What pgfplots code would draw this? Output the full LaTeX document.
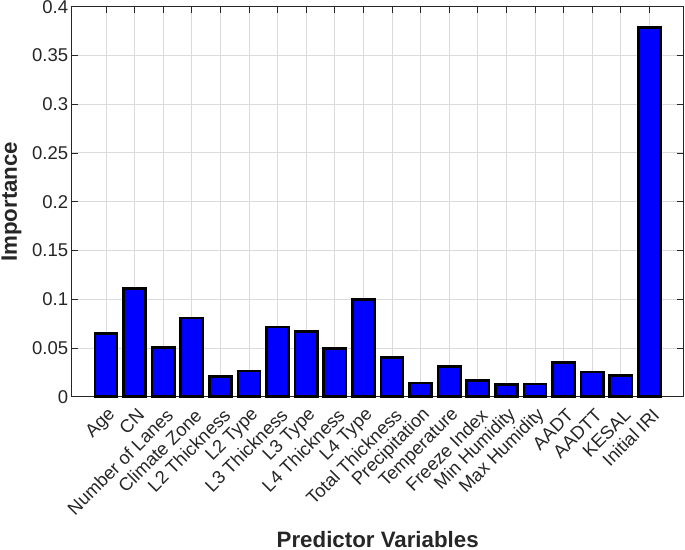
\documentclass[border=0pt]{standalone}
\usepackage{fontspec}
\setmainfont{Liberation Sans}
\usepackage{pgfplots}
\pgfplotsset{compat=1.18}
\definecolor{axgray}{HTML}{262626}
\definecolor{gridgray}{HTML}{DBDBDB}
\begin{document}
\begin{tikzpicture}
\path[use as bounding box] (-71.7bp,-153.3bp) rectangle (613.3bp,396.7bp);
\begin{axis}[
  at={(0,0)}, anchor=south west,
  scale only axis, width=612bp, height=390bp,
  xmin=-0.2, xmax=21.2, ymin=0, ymax=0.4,
  ytick={0,0.05,0.1,0.15,0.2,0.25,0.3,0.35,0.4},
  xtick={1,...,20},
  xticklabels={Age,CN,Number of Lanes,Climate Zone,L2 Thickness,L2 Type,L3 Thickness,L3 Type,L4 Thickness,L4 Type,Total Thickness,Precipitation,Temperature,Freeze Index,Min Humidity,Max Humidity,AADT,AADTT,KESAL,Initial IRI},
  /pgf/number format/.cd, fixed, precision=2, assume math mode=true, /pgfplots/.cd,
  tick align=inside, major tick length=6.5bp,
  tick style={axgray, line width=0.8bp},
  axis line style={axgray, line width=1bp},
  grid=major, major grid style={gridgray, line width=0.9bp},
  clip=false,
  yticklabel style={font=\fontsize{18.5bp}{20bp}\selectfont, text=axgray},
  xticklabel style={font=\fontsize{18.3bp}{20bp}\selectfont, text=axgray, xshift=9bp, yshift=-13bp, rotate=45, anchor=east},
  xlabel={Predictor Variables},
  ylabel={Importance},
  xlabel style={font=\fontsize{22.3bp}{24bp}\selectfont\bfseries, text=axgray, at={(axis description cs:0.5,0)}, anchor=base, yshift=-151bp},
  ylabel style={font=\fontsize{22.3bp}{24bp}\selectfont\bfseries, text=axgray, at={(axis description cs:-0.0985,0.5)}, anchor=center},
]
\addplot[ybar, bar width=0.78, fill={rgb,1:red,0;green,0;blue,1}, draw=black, line width=2.6bp] coordinates {
(1,0.065) (2,0.111) (3,0.0506) (4,0.0807) (5,0.0209) (6,0.0263) (7,0.0715) (8,0.067) (9,0.0492) (10,0.0995)
(11,0.040) (12,0.014) (13,0.0311) (14,0.0168) (15,0.0123) (16,0.013) (17,0.0349) (18,0.0253) (19,0.0219) (20,0.3785)
};
\end{axis}
\end{tikzpicture}
\end{document}
